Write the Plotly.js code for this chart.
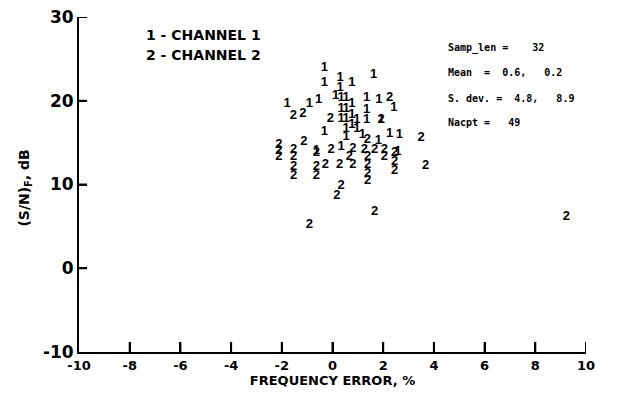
<!DOCTYPE html>
<html>
<head>
<meta charset="utf-8">
<script src="https://cdn.plot.ly/plotly-3.0.1.min.js"></script>
<style>html,body{margin:0;padding:0;background:#fff;}#chart{width:629px;height:399px;}</style>
</head>
<body>
<div id="chart"></div>
<script>
// Channel 1 points (frequency error %, (S/N)_F dB)
const ch1X = [-0.32,-0.32,0.30,0.30,0.76,1.62,-1.79,-0.91,-0.55,0.12,0.34,0.34,0.34,0.54,0.54,0.54,0.54,0.76,0.76,0.76,0.96,0.96,1.35,1.35,1.35,1.83,2.42,1.92,2.25,2.64,-0.32,0.54,1.18,1.81,0.34,2.58,-0.64];
const ch1Y = [23.9,22.2,22.8,21.5,22.2,23.1,19.7,19.7,20.1,20.6,20.4,19.1,17.9,20.4,19.1,17.9,16.7,19.6,18.3,17.1,17.7,16.7,20.3,18.9,17.7,20.1,19.2,17.7,16.1,16.0,16.3,15.7,15.9,15.2,14.5,13.9,14.0];
// Channel 2 points
const ch2X = [-1.54,-1.17,-0.08,2.25,1.92,3.50,3.67,1.38,-2.12,-2.12,-2.12,-1.53,-1.53,-1.53,-1.53,-1.13,-0.64,-0.64,-0.64,-0.28,-0.05,0.28,0.80,0.67,0.80,1.26,1.39,1.39,1.39,1.39,1.66,2.05,2.05,2.45,2.45,2.45,0.34,0.17,1.66,-0.91,9.23];
const ch2Y = [18.2,18.5,17.9,20.3,17.7,15.6,12.2,15.4,14.7,14.0,13.3,14.1,13.3,12.1,11.1,15.1,13.8,12.1,11.0,12.3,14.1,12.3,14.3,13.3,12.3,14.1,13.3,12.3,11.3,10.5,14.1,14.1,13.3,13.8,12.7,11.7,9.8,8.7,6.8,5.2,6.1];

const xTickVals = [-10,-8,-6,-4,-2,0,2,4,6,8,10];
const xTickText = ['-10','-8','-6','-4','-2','0','2','4','6','8','10'];
const yTickVals = [-10,0,10,20,30];
const yTickText = ['-10','0','10','20','30'];

const legendLines = ['1 - CHANNEL 1','2 - CHANNEL 2'];
const statLines = ['Samp_len =    32','Mean  =  0.6,   0.2','S. dev. =  4.8,   8.9','Nacpt =   49'];
const xTitle = 'FREQUENCY ERROR, %';
const yTitle = '(S/N)<sub>F</sub>, dB';

const FAM = 'Liberation Sans, Arial, sans-serif';
const WIDE = 'DejaVu Sans, Verdana, sans-serif';
const b = t => '<b>' + t + '</b>';
const markFont = {family:FAM, size:13, color:'#000'};

const traces = [
  {x: ch1X, y: ch1Y, mode:'text', text: ch1X.map(()=> b('1')), textfont: markFont, textposition:'middle center', showlegend:false},
  {x: ch2X, y: ch2Y, mode:'text', text: ch2X.map(()=> b('2')), textfont: markFont, textposition:'middle center', showlegend:false}
];

const annotations = [];
const legY = [0.946, 0.887];
legendLines.forEach((t,i)=>annotations.push({xref:'paper', yref:'paper', x:0.128, y:legY[i], xanchor:'left', yanchor:'middle', text:b(t), showarrow:false, font:{family:WIDE, size:14, color:'#000'}}));
const statY = [0.907, 0.833, 0.758, 0.684];
statLines.forEach((t,i)=>annotations.push({xref:'paper', yref:'paper', x:0.724, y:statY[i], xanchor:'left', yanchor:'middle', text:b(t.replace(/ /g,'&nbsp;')), showarrow:false, font:{family:'DejaVu Sans Mono, monospace', size:10, color:'#000'}}));
annotations.push({xref:'paper', yref:'paper', x:-0.107, y:0.49, xanchor:'center', yanchor:'middle', textangle:-90, text:b(yTitle), showarrow:false, font:{family:WIDE, size:14, color:'#000'}});

// inside tick marks at the tick values, placed through the axis scales
const shapes = [];
xTickVals.slice(1).forEach(v=>shapes.push({type:'line', xref:'x', yref:'paper', x0:v, x1:v, y0:0, y1:0.03, line:{color:'#000', width:2}, layer:'above'}));
yTickVals.slice(1).forEach(v=>shapes.push({type:'line', xref:'paper', yref:'y', x0:0, x1:0.016, y0:v, y1:v, line:{color:'#000', width:2}, layer:'above'}));

const layout = {
  width:629, height:399,
  margin:{l:79, r:43, t:17, b:47},
  xaxis:{range:[-10,10], tickmode:'array', tickvals:xTickVals, ticktext:xTickText.map(b),
    ticks:'inside', ticklen:10, tickwidth:2, tickcolor:'#000',
    showline:true, linecolor:'#000', linewidth:2, showgrid:false, zeroline:false,
    tickfont:{family:WIDE, size:13, color:'#000'},
    title:{text:b(xTitle), font:{family:WIDE, size:13, color:'#000'}, standoff:2}},
  yaxis:{range:[-10,30], tickmode:'array', tickvals:yTickVals, ticktext:yTickText.map(b),
    ticks:'inside', ticklen:8, tickwidth:2, tickcolor:'#000',
    showline:true, linecolor:'#000', linewidth:2, showgrid:false, zeroline:false,
    tickfont:{family:WIDE, size:17, color:'#000'}},
  shapes: shapes,
  annotations: annotations,
  showlegend:false
};

Plotly.newPlot('chart', traces, layout, {displayModeBar:false, staticPlot:true});
</script>
</body>
</html>
